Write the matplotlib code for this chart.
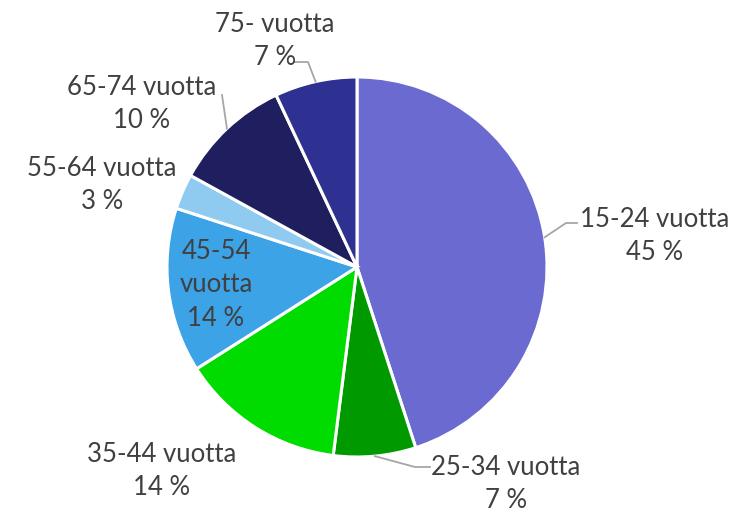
import numpy as np
import matplotlib.pyplot as plt

labels = ['15-24 vuotta', '25-34 vuotta', '35-44 vuotta', '45-54\nvuotta',
          '55-64 vuotta', '65-74 vuotta', '75- vuotta']
values = [45, 7, 14, 14, 3, 10, 7]
colors = ['#6A6AD0', '#009A00', '#00DC00', '#3BA3E6', '#8FCAF0', '#1F1F5F', '#2E3192']

# label text centres (pixel coords, y from top) and whether a leader line is drawn
label_pos = [(655, 236), (506, 484), (162, 471), (216, 285), (102, 185), (142, 104), (275, 41)]
leader = [True, True, False, False, False, True, True]

plt.rcParams['font.family'] = ['Lato', 'DejaVu Sans']
W, H = 735, 512
fig = plt.figure(figsize=(W / 100, H / 100), dpi=100)
ax = fig.add_axes([0, 0, 1, 1])

cx, cy, r = 357, H - 267, 190
wedges, _ = ax.pie(values, colors=colors, startangle=90, counterclock=False,
                   center=(cx, cy), radius=r, frame=True,
                   wedgeprops=dict(edgecolor='white', linewidth=2.2))
ax.set_xlim(0, W)
ax.set_ylim(0, H)
ax.set_aspect('equal')
ax.axis('off')

txt_color = '#404040'
for w, lab, v, (tx, ty), ld in zip(wedges, labels, values, label_pos, leader):
    ty = H - ty
    ax.text(tx, ty, f'{lab}\n{v} %', ha='center', va='center', fontsize=18.5,
            color=txt_color, linespacing=1.42)
    if ld:
        mid = np.deg2rad((w.theta1 + w.theta2) / 2)
        px, py = cx + r * np.cos(mid), cy + r * np.sin(mid)
        if lab.startswith('15-24'):
            xs, ys = [px, 566, 577], [py, H - 223, H - 223]
        elif lab.startswith('25-34'):
            xs, ys = [px, 415, 430], [py, H - 467, H - 467]
        elif lab.startswith('65-74'):
            xs, ys = [px, 222], [py, H - 95]
        else:
            xs, ys = [px, 308, 294], [py, H - 62, H - 62]
        ax.plot(xs, ys, color='#A6A6A6', linewidth=1.3)

fig.savefig('out.png', dpi=100)
